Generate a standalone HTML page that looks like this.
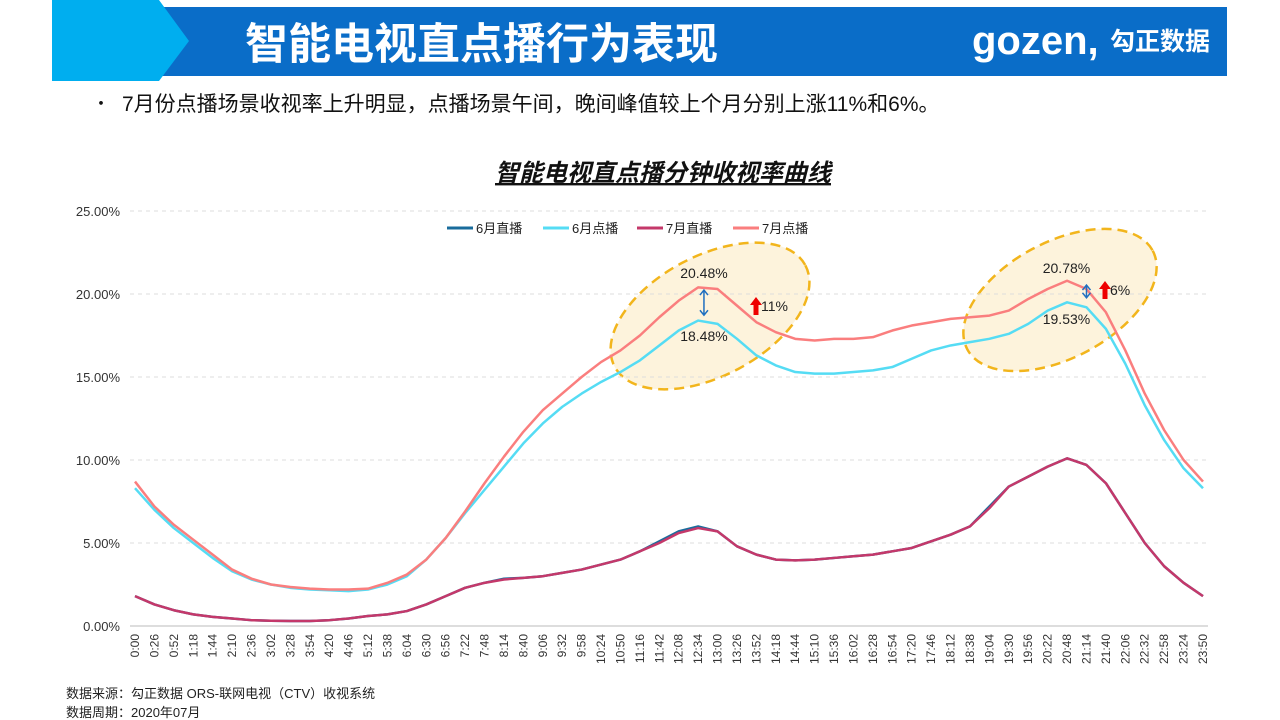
<!DOCTYPE html>
<html><head><meta charset="utf-8">
<style>
body{margin:0;width:1280px;height:720px;background:#fff;font-family:"Liberation Sans","Noto Sans CJK SC",sans-serif;overflow:hidden;position:relative}
.abs{position:absolute}
</style></head><body>
<svg class="abs" style="left:0;top:0" width="1280" height="720">
  <rect x="52" y="7" width="1175" height="69" fill="#0a6dc8"/>
  <polygon points="52,0 159,0 189,41 159,81 52,81" fill="#00aeef"/>
  <text x="245" y="59" font-size="43" font-weight="bold" fill="#fff" font-family="Noto Sans CJK SC,sans-serif">智能电视直点播行为表现</text>
  <text x="972" y="54" font-size="40" font-weight="bold" fill="#fff">gozen,</text>
  <text x="1110" y="50" font-size="25" font-weight="bold" fill="#fff" font-family="Noto Sans CJK SC,sans-serif">勾正数据</text>
  <text x="92" y="110" font-size="18" fill="#111" font-family="Noto Sans CJK SC,sans-serif">•</text>
  <text x="122" y="111" font-size="21" fill="#111" font-family="Liberation Sans,Noto Sans CJK SC,sans-serif">7月份点播场景收视率上升明显，点播场景午间，晚间峰值较上个月分别上涨11%和6%。</text>
  <text x="663" y="181" font-size="24" font-weight="bold" font-style="italic" fill="#111" text-anchor="middle" text-decoration="underline" font-family="Noto Sans CJK SC,sans-serif">智能电视直点播分钟收视率曲线</text>
  <text x="66" y="698" font-size="13" fill="#222" font-family="Liberation Sans,Noto Sans CJK SC,sans-serif">数据来源：勾正数据 ORS-联网电视（CTV）收视系统</text>
  <text x="66" y="717" font-size="13" fill="#222" font-family="Liberation Sans,Noto Sans CJK SC,sans-serif">数据周期：2020年07月</text>
  <g id="chart"></g>
</svg>
<script>
const categories=[];for(let i=0;i<56;i++){const m=i*26;categories.push(Math.floor(m/60)+':'+String(m%60).padStart(2,'0'));}
const yTicks=[0,5,10,15,20,25];
const junLive=[1.8,1.3,0.95,0.7,0.55,0.45,0.35,0.32,0.3,0.3,0.35,0.45,0.6,0.7,0.9,1.3,1.8,2.3,2.6,2.85,2.9,3.0,3.2,3.4,3.7,4.0,4.5,5.1,5.7,6.0,5.7,4.8,4.3,4.0,3.95,4.0,4.1,4.2,4.3,4.5,4.7,5.1,5.5,6.0,7.2,8.4,9.0,9.6,10.1,9.7,8.6,6.8,5.0,3.6,2.6,1.8];
const junVod=[8.3,7.0,5.9,5.0,4.1,3.3,2.8,2.5,2.3,2.2,2.15,2.1,2.2,2.5,3.0,4.0,5.3,6.8,8.2,9.6,11.0,12.2,13.2,14.0,14.7,15.3,16.0,16.9,17.8,18.4,18.2,17.3,16.3,15.7,15.3,15.2,15.2,15.3,15.4,15.6,16.1,16.6,16.9,17.1,17.3,17.6,18.2,19.0,19.5,19.2,17.9,15.8,13.3,11.2,9.5,8.3];
const julLive=[1.8,1.3,0.95,0.7,0.55,0.45,0.35,0.32,0.3,0.3,0.35,0.45,0.6,0.7,0.9,1.3,1.8,2.3,2.6,2.8,2.9,3.0,3.2,3.4,3.7,4.0,4.5,5.0,5.6,5.9,5.7,4.8,4.3,4.0,3.95,4.0,4.1,4.2,4.3,4.5,4.7,5.1,5.5,6.0,7.1,8.4,9.0,9.6,10.1,9.7,8.6,6.8,5.0,3.6,2.6,1.8];
const julVod=[8.7,7.2,6.1,5.2,4.3,3.4,2.85,2.5,2.35,2.25,2.2,2.2,2.25,2.6,3.1,4.0,5.3,6.9,8.6,10.2,11.7,13.0,14.0,15.0,15.9,16.6,17.5,18.6,19.6,20.4,20.3,19.3,18.3,17.7,17.3,17.2,17.3,17.3,17.4,17.8,18.1,18.3,18.5,18.6,18.7,19.0,19.7,20.3,20.8,20.3,18.9,16.6,14.0,11.8,10.0,8.7];
const seriesNames=['6月直播','6月点播','7月直播','7月点播'];
const seriesColors=['#1a6c9c','#55dcf4','#c4386a','#fa7e7e'];
const X0=135,X1=1203,Y0=626,YTOP=211;
const x=i=>X0+(X1-X0)*i/(categories.length-1);
const y=v=>Y0-(Y0-YTOP)*v/25;
const NS='http://www.w3.org/2000/svg';
const g=document.getElementById('chart');
function mk(t,a,txt){const e=document.createElementNS(NS,t);for(const k in a)e.setAttribute(k,a[k]);if(txt!==undefined)e.textContent=txt;g.appendChild(e);return e;}
let e1=mk('ellipse',{cx:710,cy:316,rx:108,ry:60,transform:'rotate(-28 710 316)',fill:'#fdf3dc',stroke:'#f2b51c','stroke-width':2.5,'stroke-dasharray':'10,6'});


let e2=mk('ellipse',{cx:1060,cy:300,rx:105,ry:58,transform:'rotate(-28 1060 300)',fill:'#fdf3dc',stroke:'#f2b51c','stroke-width':2.5,'stroke-dasharray':'10,6'});


yTicks.forEach(v=>{
  const l=mk('line',{x1:X0-5,x2:X1+5,y1:y(v),y2:y(v),stroke:v===0?'#bbb':'#ddd','stroke-dasharray':v===0?'':'4,4'});
  
  
  const t=mk('text',{x:120,y:y(v)+5,'font-size':13,'text-anchor':'end',fill:'#333'},v.toFixed(2)+'%');
  
  
});
categories.forEach((c,i)=>{
  const t=mk('text',{x:0,y:0,'font-size':12,'text-anchor':'end',fill:'#333',transform:`translate(${x(i)+4},${Y0+8}) rotate(-90)`},c);
  
  
});
[junLive,junVod,julLive,julVod].forEach((s,k)=>{
  const p=mk('polyline',{points:s.map((v,i)=>x(i)+','+y(v)).join(' '),fill:'none',stroke:seriesColors[k],'stroke-width':2.5,'stroke-linejoin':'round'});
  
  
});
const lx=[447,543,637,733];
seriesNames.forEach((n,k)=>{
  const l=mk('line',{x1:lx[k],x2:lx[k]+26,y1:228,y2:228,stroke:seriesColors[k],'stroke-width':3});
  
  
  const t=mk('text',{x:lx[k]+29,y:233,'font-size':13,fill:'#222'},n);
  
  
});
function ann(i,a,b,name,dx){
  const xx=x(i);
  const ar=mk('path',{d:`M${xx} ${y(a)+4} L${xx} ${y(b)-4} M${xx-4} ${y(a)+9} L${xx} ${y(a)+4} L${xx+4} ${y(a)+9} M${xx-4} ${y(b)-9} L${xx} ${y(b)-4} L${xx+4} ${y(b)-9}`,stroke:'#1f6fc0','stroke-width':1.5,fill:'none'});
  
  
  const t1=mk('text',{x:xx+dx,y:y(a)-8,'font-size':14,'text-anchor':'middle',fill:'#222'},a.toFixed(2)+'%');
  
  
  const t2=mk('text',{x:xx+dx,y:y(b)+22,'font-size':14,'text-anchor':'middle',fill:'#222'},b.toFixed(2)+'%');
  
  
}
ann(29.3,20.48,18.48,'noon',0);
ann(49,20.78,19.53,'evening',-20);
function up(xx,yy,txt,name){
  const p=mk('polygon',{points:`${xx},${yy-10} ${xx+6},${yy-2} ${xx+2.5},${yy-2} ${xx+2.5},${yy+8} ${xx-2.5},${yy+8} ${xx-2.5},${yy-2} ${xx-6},${yy-2}`,fill:'#e00'});
  
  
  const t=mk('text',{x:xx+5,y:yy+4,'font-size':14,fill:'#222'},txt);
  
  
}
up(756,307,'11%','noon');
up(1105,291,'6%','evening');
</script>
</body></html>
